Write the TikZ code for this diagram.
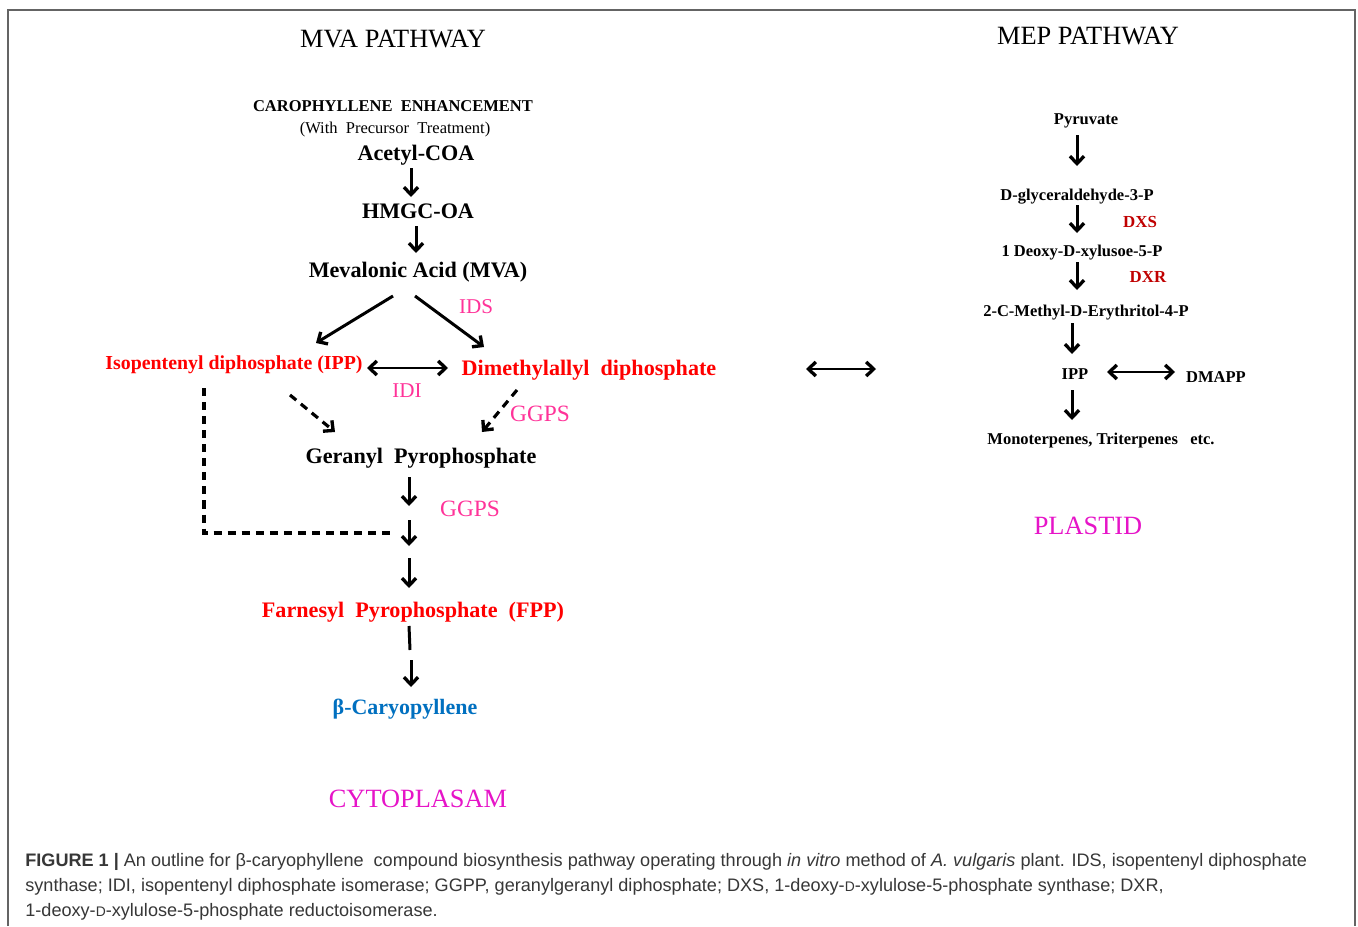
\documentclass[tikz,border=0pt]{standalone}
\usepackage{fontspec}
\setmainfont{Liberation Serif}
\newfontfamily\capfont{Liberation Sans}
\usetikzlibrary{arrows.meta}
\definecolor{redtxt}{RGB}{255,0,0}
\definecolor{pinklbl}{RGB}{255,51,153}
\definecolor{darkredtxt}{RGB}{192,0,0}
\definecolor{bluetxt}{RGB}{0,112,192}
\definecolor{magtxt}{RGB}{230,20,200}
\definecolor{captxt}{RGB}{55,55,55}
\definecolor{bordercol}{RGB}{100,100,100}
\newcommand{\smallD}{{\fontsize{7.9}{8}\selectfont D}}
\tikzset{
  txt/.style={inner sep=0pt, text height=0.95em, text depth=0.05em, anchor=center},
  title/.style={txt, font=\fontsize{15}{17}\selectfont},
  region/.style={txt, font=\fontsize{15}{17}\selectfont, text=magtxt},
  bigb/.style={txt, font=\fontsize{12.6}{14}\selectfont\bfseries},
  smallb/.style={txt, font=\fontsize{9.4}{11}\selectfont\bfseries},
  smallr/.style={txt, font=\fontsize{9.4}{11}\selectfont},
  enz/.style={txt, font=\fontsize{12}{14}\selectfont, text=pinklbl},
  enzg/.style={txt, font=\fontsize{13.3}{15}\selectfont, text=pinklbl},
  enzr/.style={txt, font=\fontsize{9.6}{11}\selectfont\bfseries, text=darkredtxt},
  captionline/.style={inner sep=0pt, anchor=base west, text=captxt, font=\capfont\fontsize{10.3}{12}\selectfont},
  tip/.tip={Straight Barb[length=4.2pt,width=8pt,line width=1.9pt]},
  arr/.style={line width=1.7pt, -tip},
  darr/.style={line width=1.7pt, tip-tip},
  dsh/.style={line width=1.8pt, dash pattern=on 4.6pt off 3.4pt},
  dsharr/.style={dsh, -tip},
}
\begin{document}
\begin{tikzpicture}[x=0.02cm, y=-0.02cm]
\useasboundingbox (0,0) rectangle (1358,926);
\fill[white] (0,0) rectangle (1358,926);
\draw[bordercol, line width=0.04cm] (8,926) -- (8,10) -- (1355,10) -- (1355,926);

% ---------- MVA side ----------
\node[title] (mvatitle) at (393,40) {MVA PATHWAY};
\node[smallb] (caroph) at (393,104) {CAROPHYLLENE~~ENHANCEMENT};
\node[smallr] (precursor) at (395,126) {(With~~Precursor~~Treatment)};
\node[bigb] (acetyl) at (416,153) {Acetyl-COA};
\node[bigb] (hmgc) at (418,211) {HMGC-OA};
\node[bigb] (mva) at (418,270) {Mevalonic Acid (MVA)};
\node[enz] (ids) at (476,306) {IDS};
\node[txt, font=\fontsize{11.3}{13}\selectfont\bfseries, text=redtxt] (ipp) at (234,362) {Isopentenyl diphosphate (IPP)};
\node[bigb, text=redtxt] (dmap) at (589,368) {Dimethylallyl~~diphosphate};
\node[enz] (idi) at (407,390) {IDI};
\node[enzg] (ggps1) at (540,414) {GGPS};
\node[bigb] (gpp) at (421,456) {Geranyl~~Pyrophosphate};
\node[enzg] (ggps2) at (470,509) {GGPS};
\coordinate (join) at (409,533);
\node[bigb, text=redtxt] (fpp) at (413,610) {Farnesyl~~Pyrophosphate~~(FPP)};
\node[txt, font=\fontsize{12.5}{14}\selectfont\bfseries, text=bluetxt] (caryo) at (405,707) {β-Caryopyllene};
\node[region] (cyto) at (418,800) {CYTOPLASAM};

\draw[arr] ([shift={(-5,15)}]acetyl.center) -- ([shift={(-7,-14)}]hmgc.center);
\draw[arr] ([shift={(-2,15)}]hmgc.center) -- ([shift={(-2,-17)}]mva.center);
\draw[arr] ([shift={(-25,26)}]mva.center) -- ([shift={(82,-19)}]ipp.center);
\draw[arr] ([shift={(-3,26)}]mva.center) -- ([shift={(-105,-21)}]dmap.center);
\draw[darr] ([shift={(133,6)}]ipp.center) -- ([shift={(-141,0)}]dmap.center);
\draw[dsharr] ([shift={(56,33)}]ipp.center) -- ([shift={(-86,-24)}]gpp.center);
\draw[dsharr] ([shift={(-72,22)}]dmap.center) -- ([shift={(61,-24)}]gpp.center);
\draw[arr] ([shift={(-12,21)}]gpp.center) -- ([shift={(0,-27)}]join);
\draw[arr] ([shift={(0,-13)}]join) -- ([shift={(0,13)}]join);
\draw[dsh] ([shift={(-30,26)}]ipp.center) |- ([shift={(-16,0)}]join);
\draw[arr] ([shift={(0,25)}]join) -- ([shift={(-4,-22)}]fpp.center);
\draw[line width=1.7pt] ([shift={(-4,16)}]fpp.center) -- ([shift={(-3,40)}]fpp.center);
\draw[arr] ([shift={(-2,50)}]fpp.center) -- ([shift={(6,-20)}]caryo.center);

% ---------- MEP side ----------
\node[title] (meptitle) at (1088,37) {MEP PATHWAY};
\node[smallb] (pyr) at (1086,117) {Pyruvate};
\node[smallb] (glyc) at (1077,193) {D-glyceraldehyde-3-P};
\node[enzr] (dxs) at (1140,220) {DXS};
\node[smallb] (deoxy) at (1082,249) {1 Deoxy-D-xylusoe-5-P};
\node[enzr] (dxr) at (1148,275) {DXR};
\node[smallb] (mep) at (1086,309) {2-C-Methyl-D-Erythritol-4-P};
\node[smallb] (ippr) at (1075,372) {IPP};
\node[smallb] (dmapp) at (1216,375) {DMAPP};
\node[smallb] (mono) at (1101,437) {Monoterpenes, Triterpenes~~~etc.};
\node[region] (plastid) at (1088,527) {PLASTID};

\draw[arr] ([shift={(-9,18)}]pyr.center) -- ([shift={(0,-27)}]glyc.center);
\draw[arr] ([shift={(0,12)}]glyc.center) -- ([shift={(-5,-16)}]deoxy.center);
\draw[arr] ([shift={(-5,13)}]deoxy.center) -- ([shift={(-9,-19)}]mep.center);
\draw[arr] ([shift={(-14,14)}]mep.center) -- ([shift={(-3,-18)}]ippr.center);
\draw[darr] ([shift={(32,0)}]ippr.center) -- ([shift={(-41,-3)}]dmapp.center);
\draw[arr] ([shift={(-3,18)}]ippr.center) -- ([shift={(-29,-17)}]mono.center);

% link between compartments
\draw[darr] ([shift={(217,1)}]dmap.center) -- ([shift={(-199,-3)}]ippr.center);

% ---------- caption ----------
\node[captionline] (cap1) at (25,866) {\textbf{FIGURE 1 |} An outline for β-caryophyllene~~compound biosynthesis pathway operating through \textit{in vitro} method of \textit{A. vulgaris} plant. IDS, isopentenyl diphosphate};
\node[captionline] (cap2) at (25,891) {synthase; IDI, isopentenyl diphosphate isomerase; GGPP, geranylgeranyl diphosphate; DXS, 1-deoxy-\smallD-xylulose-5-phosphate synthase; DXR,};
\node[captionline] (cap3) at (25,916) {1-deoxy-\smallD-xylulose-5-phosphate reductoisomerase.};
\end{tikzpicture}
\end{document}
